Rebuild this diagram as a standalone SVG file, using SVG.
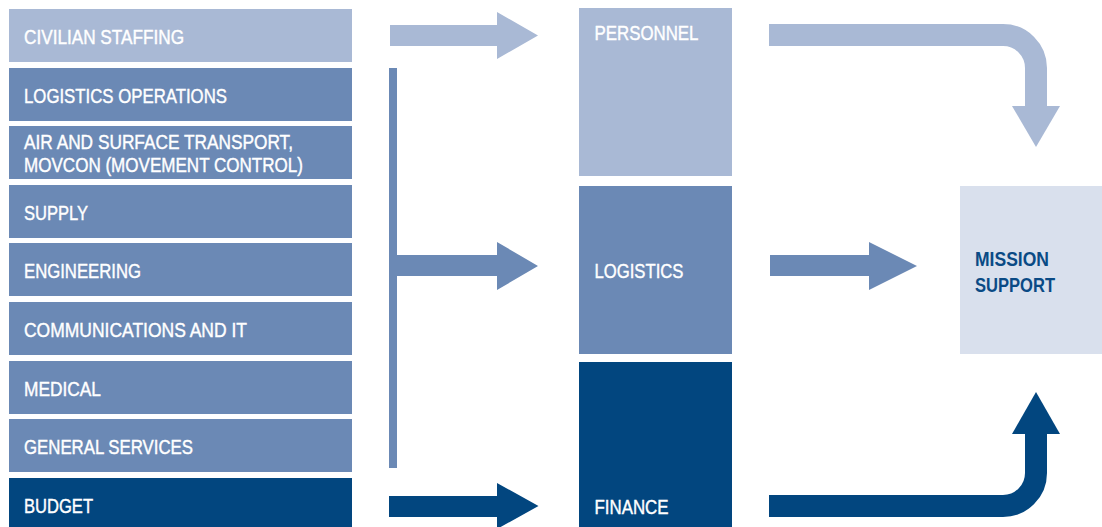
<svg xmlns="http://www.w3.org/2000/svg" width="1102" height="527" viewBox="0 0 1102 527">
<style>
.lt{fill:#A9B9D5}
.md{fill:#6B89B5}
.dk{fill:#02467F}
.ms{fill:#D9E0ED}
.lbl{font-family:"Liberation Sans",Arial,sans-serif;font-size:19.5px;fill:#FFFFFF;stroke:#FFFFFF;stroke-width:0.4px}
.mlbl{font-family:"Liberation Sans",Arial,sans-serif;font-size:21px;font-weight:bold;fill:#0A4A85}
.sl{fill:none;stroke:#A9B9D5;stroke-width:22}
.sd{fill:none;stroke:#02467F;stroke-width:22}
</style>
<rect width="1102" height="527" fill="#FFFFFF"/>
<g id="civilian-staffing"><rect class="lt" x="9" y="9" width="343" height="53"/><text class="lbl" x="24" y="43.5" textLength="160" lengthAdjust="spacingAndGlyphs">CIVILIAN STAFFING</text></g>
<g id="logistics-operations"><rect class="md" x="9" y="68" width="343" height="53"/><text class="lbl" x="24" y="102.5" textLength="203" lengthAdjust="spacingAndGlyphs">LOGISTICS OPERATIONS</text></g>
<g id="air-surface-transport"><rect class="md" x="9" y="126" width="343" height="53"/><text class="lbl" x="24" y="149" textLength="269" lengthAdjust="spacingAndGlyphs">AIR AND SURFACE TRANSPORT,</text><text class="lbl" x="24" y="171.5" textLength="279" lengthAdjust="spacingAndGlyphs">MOVCON (MOVEMENT CONTROL)</text></g>
<g id="supply"><rect class="md" x="9" y="185" width="343" height="53"/><text class="lbl" x="24" y="220" textLength="64" lengthAdjust="spacingAndGlyphs">SUPPLY</text></g>
<g id="engineering"><rect class="md" x="9" y="243" width="343" height="53"/><text class="lbl" x="24" y="278.3" textLength="117" lengthAdjust="spacingAndGlyphs">ENGINEERING</text></g>
<g id="communications-it"><rect class="md" x="9" y="302" width="343" height="53"/><text class="lbl" x="24" y="336.7" textLength="223" lengthAdjust="spacingAndGlyphs">COMMUNICATIONS AND IT</text></g>
<g id="medical"><rect class="md" x="9" y="361" width="343" height="53"/><text class="lbl" x="24" y="395.7" textLength="77" lengthAdjust="spacingAndGlyphs">MEDICAL</text></g>
<g id="general-services"><rect class="md" x="9" y="419" width="343" height="53"/><text class="lbl" x="24" y="453.7" textLength="169" lengthAdjust="spacingAndGlyphs">GENERAL SERVICES</text></g>
<g id="budget"><rect class="dk" x="9" y="478" width="343" height="49"/><text class="lbl" x="24" y="512.7" textLength="69" lengthAdjust="spacingAndGlyphs">BUDGET</text></g>
<g id="personnel"><rect class="lt" x="579" y="8" width="153" height="168"/><text class="lbl" x="594.5" y="40" textLength="104" lengthAdjust="spacingAndGlyphs">PERSONNEL</text></g>
<g id="logistics"><rect class="md" x="579" y="186" width="153" height="168"/><text class="lbl" x="594.5" y="277.7" textLength="89" lengthAdjust="spacingAndGlyphs">LOGISTICS</text></g>
<g id="finance"><rect class="dk" x="579" y="362" width="153" height="165"/><text class="lbl" x="594.5" y="513.7" textLength="74" lengthAdjust="spacingAndGlyphs">FINANCE</text></g>
<g id="mission-support"><rect class="ms" x="960" y="186" width="142" height="168"/><text class="mlbl" x="975" y="265.7" textLength="74" lengthAdjust="spacingAndGlyphs">MISSION</text><text class="mlbl" x="975" y="291.7" textLength="80" lengthAdjust="spacingAndGlyphs">SUPPORT</text></g>
<g id="connectors">
<polygon class="lt" points="390,25 497,25 497,12 538,35.5 497,59 497,46 390,46"/>
<rect class="md" x="389" y="68" width="8" height="400"/>
<polygon class="md" points="397,255 497,255 497,242 538,266 497,290 497,276 397,276"/>
<polygon class="md" points="770,255 869,255 869,242 917,266 869,290 869,276 770,276"/>
<polygon class="dk" points="389,496 497,496 497,483 538.5,506 497,529 497,517 389,517"/>
<path class="sl" d="M769,35 H1003 A33,33 0 0 1 1036,68 V107"/>
<polygon class="lt" points="1012,106 1060,106 1036,147"/>
<path class="sd" d="M769,506 H1003 A33,33 0 0 0 1036,473 V433"/>
<polygon class="dk" points="1012,434 1060,434 1036,392"/>
</g>
</svg>
